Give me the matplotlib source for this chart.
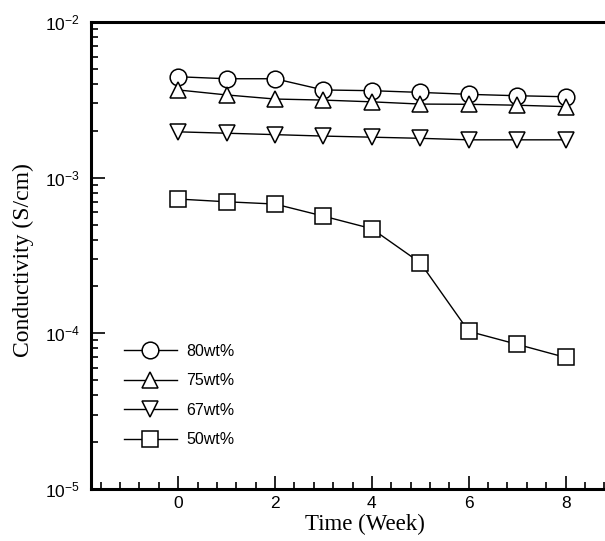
import matplotlib
matplotlib.use("Agg")
import matplotlib.pyplot as plt
from matplotlib.ticker import LogLocator, MultipleLocator
import numpy as np

plt.rcParams['font.family'] = ['Liberation Sans', 'DejaVu Sans']

weeks = [0, 1, 2, 3, 4, 5, 6, 7, 8]
wt80 = [4.45e-3, 4.32e-3, 4.32e-3, 3.66e-3, 3.62e-3, 3.53e-3, 3.43e-3, 3.36e-3, 3.31e-3]
wt75 = [3.66e-3, 3.40e-3, 3.20e-3, 3.15e-3, 3.07e-3, 2.97e-3, 2.96e-3, 2.92e-3, 2.86e-3]
wt67 = [1.97e-3, 1.93e-3, 1.89e-3, 1.85e-3, 1.82e-3, 1.79e-3, 1.75e-3, 1.75e-3, 1.75e-3]
wt50 = [7.29e-4, 7.00e-4, 6.77e-4, 5.66e-4, 4.70e-4, 2.84e-4, 1.03e-4, 8.5e-5, 7.0e-5]

series = [
    ('80wt%', wt80, 'o', 12),
    ('75wt%', wt75, '^', 12),
    ('67wt%', wt67, 'v', 12),
    ('50wt%', wt50, 's', 11),
]

fig = plt.figure(figsize=(6.05, 5.41), dpi=100)
W, H = 605, 541
x0_px, x1_px = 91, 614
ytop, ybot = 22, 489
ax = fig.add_axes([x0_px / W, 1 - ybot / H, (x1_px - x0_px) / W, (ybot - ytop) / H])

for label, vals, mk, ms in series:
    ax.plot(weeks, vals, color='black', lw=1.0, marker=mk, markersize=ms,
            markerfacecolor='white', markeredgecolor='black', markeredgewidth=1.1,
            label=label)

ax.set_yscale('log')
ax.set_ylim(1e-5, 1e-2)
ax.set_xlim(-1.8, 9.0)
ax.xaxis.set_major_locator(MultipleLocator(2))
ax.xaxis.set_minor_locator(MultipleLocator(0.4))
ax.yaxis.set_major_locator(LogLocator(base=10))
ax.yaxis.set_minor_locator(LogLocator(base=10, subs=np.arange(2, 10)))

ax.tick_params(which='both', direction='in', top=False, right=False, width=1.2, labelsize=12.5)
ax.tick_params(axis='y', which='major', length=10, pad=8)
ax.tick_params(axis='y', which='minor', length=5)
ax.tick_params(axis='x', which='major', length=9.5, pad=5)
ax.tick_params(axis='x', which='minor', length=5)

for sp in ax.spines.values():
    sp.set_linewidth(2.2)

fig.text(365 / W, 1 - 524 / H, 'Time (Week)', family=['Liberation Serif'],
         fontsize=16.5, ha='center', va='center')
fig.text(23 / W, 1 - 260 / H, 'Conductivity (S/cm)', family=['Liberation Serif'],
         fontsize=17, ha='center', va='center', rotation=90)

ax.legend(loc='upper left', bbox_to_anchor=(124 / W, 1 - 344 / H), bbox_transform=fig.transFigure,
          frameon=False, fontsize=11.5, handlelength=3.3, handletextpad=0.6,
          labelspacing=0.9, borderpad=0, borderaxespad=0)

fig.savefig('out.png', dpi=100)
